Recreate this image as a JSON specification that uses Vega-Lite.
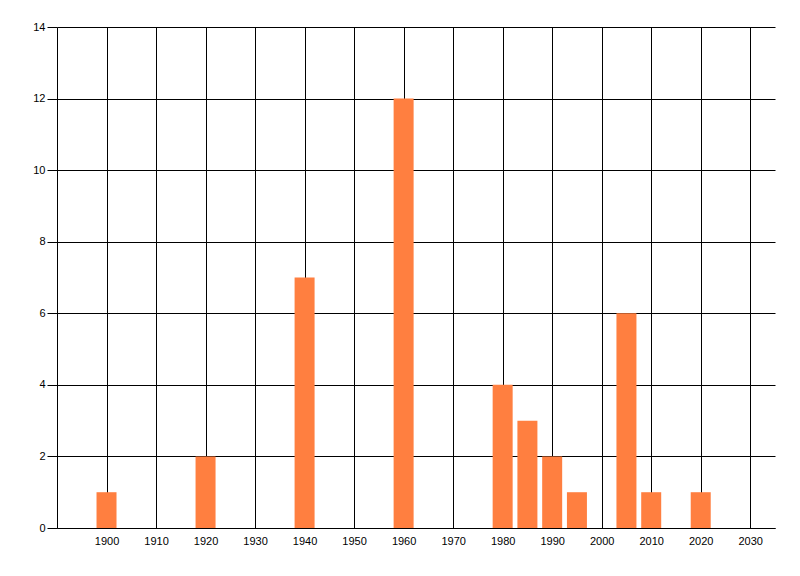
{
  "$schema": "https://vega.github.io/schema/vega-lite/v6.json",
  "description": "Count per year, bar chart",
  "autosize": "none",
  "padding": {"left": 57, "top": 27, "right": 25, "bottom": 48},
  "width": 718,
  "height": 501,
  "background": "white",
  "config": {
    "view": {"stroke": null},
    "axis": {
      "labelFont": "Liberation Sans",
      "labelFontSize": 11,
      "labelColor": "black",
      "gridColor": "black",
      "gridOpacity": 1,
      "gridWidth": 1,
      "domainColor": "black",
      "domainWidth": 1,
      "tickColor": "black",
      "tickWidth": 1
    }
  },
  "data": {
    "values": [
      {"year": 1900, "count": 1},
      {"year": 1920, "count": 2},
      {"year": 1940, "count": 7},
      {"year": 1960, "count": 12},
      {"year": 1980, "count": 4},
      {"year": 1985, "count": 3},
      {"year": 1990, "count": 2},
      {"year": 1995, "count": 1},
      {"year": 2005, "count": 6},
      {"year": 2010, "count": 1},
      {"year": 2020, "count": 1}
    ]
  },
  "mark": {"type": "bar", "width": 20, "color": "#FF7F40"},
  "encoding": {
    "x": {
      "field": "year",
      "type": "quantitative",
      "title": null,
      "scale": {"domain": [1890, 2035], "nice": false, "zero": false, "padding": 0},
      "axis": {
        "values": [1900, 1910, 1920, 1930, 1940, 1950, 1960, 1970, 1980, 1990, 2000, 2010, 2020, 2030],
        "format": "d",
        "ticks": false,
        "labelPadding": 7,
        "labelFlush": false
      }
    },
    "y": {
      "field": "count",
      "type": "quantitative",
      "title": null,
      "scale": {"domain": [0, 14], "nice": false},
      "axis": {
        "values": [0, 2, 4, 6, 8, 10, 12, 14],
        "tickSize": 10,
        "labelPadding": 2,
        "labelFlush": false
      }
    }
  }
}
